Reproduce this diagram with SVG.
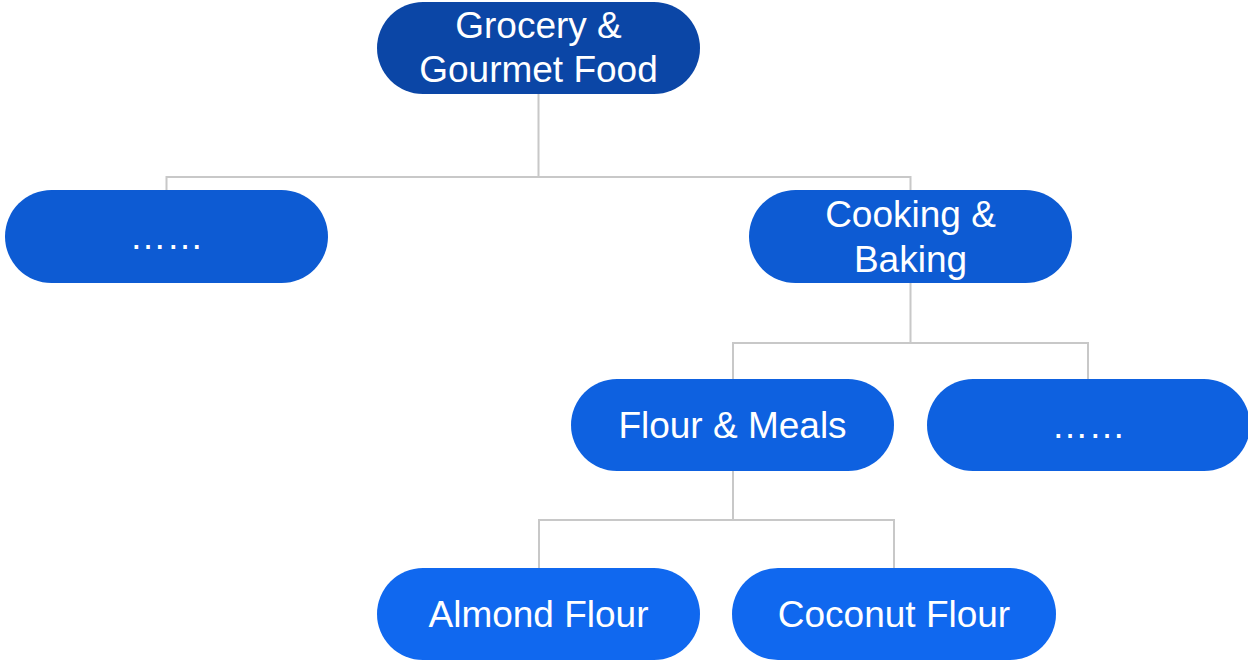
<svg xmlns="http://www.w3.org/2000/svg" width="1248" height="663" viewBox="0 0 1248 663">
  <style>
    .edge { fill: none; stroke: #c8c8c8; stroke-width: 2; }
    .label { fill: #ffffff; font-family: "Liberation Sans", Arial, sans-serif; font-size: 37px; text-anchor: middle; }
    .l0 { fill: #0b46a6; }
    .l1 { fill: #0d5bd3; }
    .l2 { fill: #0e61e0; }
    .l3 { fill: #1068ef; }
  </style>
  <rect width="1248" height="663" fill="#ffffff"/>

  <!-- tree connectors -->
  <g id="connectors">
    <path class="edge" d="M538.5 94 V177 M166.5 190 V177 H910.5 V190"/>
    <path class="edge" d="M910.5 283 V343 M733 379 V343 H1088 V379"/>
    <path class="edge" d="M733 471 V520 M539 568 V520 H894 V568"/>
  </g>

  <g id="node-grocery">
    <rect class="l0" x="377" y="2" width="323" height="92" rx="46"/>
    <text class="label" x="538.5" y="38">Grocery &amp;</text>
    <text class="label" x="538.5" y="82">Gourmet Food</text>
  </g>

  <g id="node-more-1">
    <rect class="l1" x="5" y="190" width="323" height="93" rx="46.5"/>
    <text class="label" x="166.5" y="249">……</text>
  </g>

  <g id="node-cooking">
    <rect class="l1" x="749" y="190" width="323" height="93" rx="46.5"/>
    <text class="label" x="910.5" y="227">Cooking &amp;</text>
    <text class="label" x="910.5" y="272">Baking</text>
  </g>

  <g id="node-flour">
    <rect class="l2" x="571" y="379" width="323" height="92" rx="46"/>
    <text class="label" x="732.5" y="438">Flour &amp; Meals</text>
  </g>

  <g id="node-more-2">
    <rect class="l2" x="927" y="379" width="323" height="92" rx="46"/>
    <text class="label" x="1088.5" y="438">……</text>
  </g>

  <g id="node-almond">
    <rect class="l3" x="377" y="568" width="323" height="92" rx="46"/>
    <text class="label" x="538.5" y="627">Almond Flour</text>
  </g>

  <g id="node-coconut">
    <rect class="l3" x="732" y="568" width="324" height="92" rx="46"/>
    <text class="label" x="894" y="627">Coconut Flour</text>
  </g>
</svg>
